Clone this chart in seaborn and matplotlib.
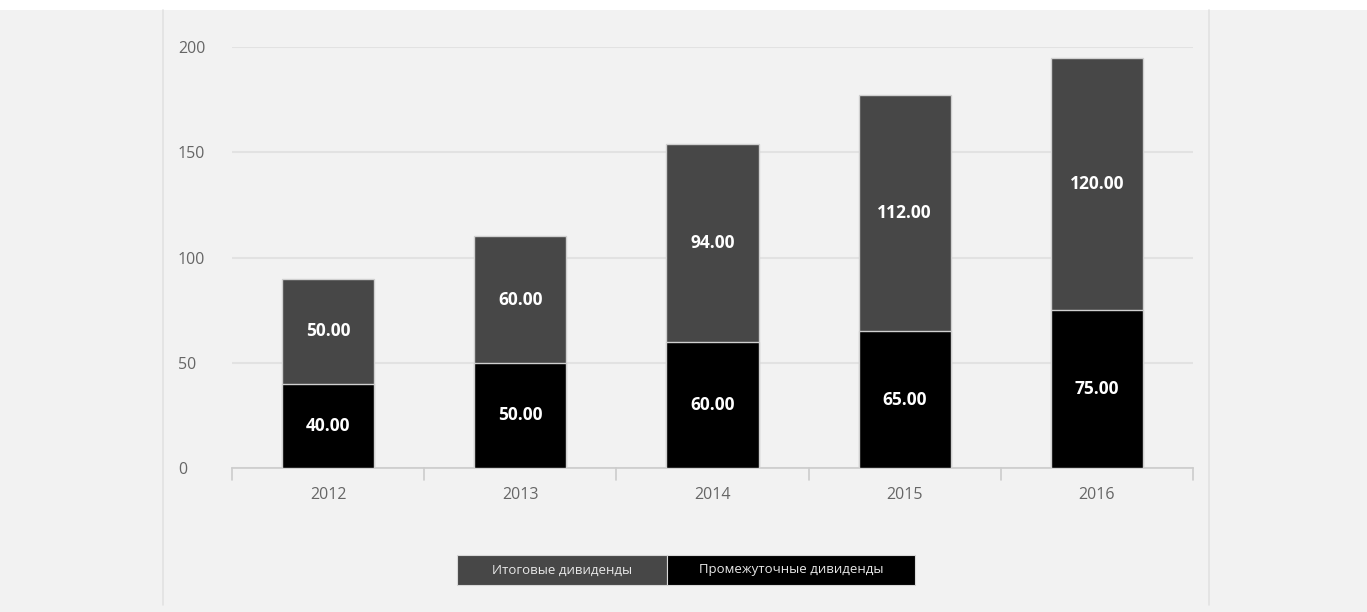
import matplotlib
matplotlib.use('Agg')
import matplotlib.pyplot as plt
import seaborn as sns
import pandas as pd
from matplotlib.patches import Rectangle

# Данные
years = ['2012', '2013', '2014', '2015', '2016']
interim = [40, 50, 60, 65, 75]      # Промежуточные дивиденды
final = [50, 60, 94, 112, 120]      # Итоговые дивиденды
series_names = ['Итоговые дивиденды', 'Промежуточные дивиденды']
y_ticks = [0, 50, 100, 150, 200]

df = pd.DataFrame({'year': years, 'interim': interim, 'final': final})
df['total'] = df['interim'] + df['final']

sns.set_style('white')
plt.rcParams['font.family'] = ['Open Sans', 'DejaVu Sans']

bg = '#f2f2f2'
col_final = '#474747'
col_interim = '#000000'

fig = plt.figure(figsize=(13.67, 6.12), dpi=100, facecolor=bg)
ax = fig.add_axes([232 / 1367, 1 - 468 / 612, (1193 - 232) / 1367, (468 - 47) / 612])
ax.set_facecolor(bg)

# Полосы: сначала сумма (итоговые сверху), затем промежуточные
sns.barplot(data=df, x='year', y='total', color=col_final, width=0.48,
            edgecolor='#d0d0d0', linewidth=1, saturation=1, ax=ax, zorder=3)
sns.barplot(data=df, x='year', y='interim', color=col_interim, width=0.48,
            edgecolor='#d0d0d0', linewidth=1, saturation=1, ax=ax, zorder=4)

# Подписи значений
for i, row in df.iterrows():
    ax.text(i, row['interim'] / 2, f"{row['interim']:.2f}", ha='center', va='center',
            color='white', fontsize=12.5, fontweight='bold', zorder=5)
    ax.text(i, row['interim'] + row['final'] / 2, f"{row['final']:.2f}", ha='center',
            va='center', color='white', fontsize=12.5, fontweight='bold', zorder=5)

ax.set_ylim(0, 200)
ax.set_xlim(-0.5, len(years) - 0.5)
ax.set_yticks(y_ticks)
ax.yaxis.grid(True, color='#e2e2e2', linewidth=1.5)
ax.set_axisbelow(True)
for s in ['top', 'right', 'left']:
    ax.spines[s].set_visible(False)
ax.spines['bottom'].set_color('#cccccc')
ax.spines['bottom'].set_linewidth(1.2)
ax.set_xlabel('')
ax.set_ylabel('')
ax.tick_params(axis='y', length=0, pad=39, labelsize=11.5, labelcolor='#666666')
ax.tick_params(axis='x', length=0, pad=14, labelsize=11.5, labelcolor='#666666')
for lab in ax.get_yticklabels():
    lab.set_horizontalalignment('left')

# Деления между категориями
for b in range(len(years) + 1):
    ax.plot([b - 0.5, b - 0.5], [0, -5.5], color='#cccccc', linewidth=1.2,
            clip_on=False, zorder=2)

# Рамка панели
W, H = 1367, 612
fig.patches.append(Rectangle((0, 1 - 10 / H), 1, 10 / H, transform=fig.transFigure,
                             facecolor='white', edgecolor='none', zorder=0))
for xp in [163, 1209]:
    fig.add_artist(plt.Line2D([xp / W, xp / W], [1 - 605 / H, 1 - 10 / H],
                              color='#e2e2e2', linewidth=1.2, transform=fig.transFigure))

# Легенда
leg = [(457, 667, col_final, series_names[0]), (667, 915, col_interim, series_names[1])]
for x0, x1, c, name in leg:
    fig.patches.append(Rectangle((x0 / W, 1 - 585 / H), (x1 - x0) / W, 30 / H,
                                 transform=fig.transFigure, facecolor=c,
                                 edgecolor='#d8d8d8', linewidth=0.8))
    fig.text((x0 + x1) / 2 / W, 1 - 570 / H, name, ha='center', va='center',
             color='#e8e8e8', fontsize=9.5)

fig.savefig('out.png', dpi=100, facecolor=bg)
